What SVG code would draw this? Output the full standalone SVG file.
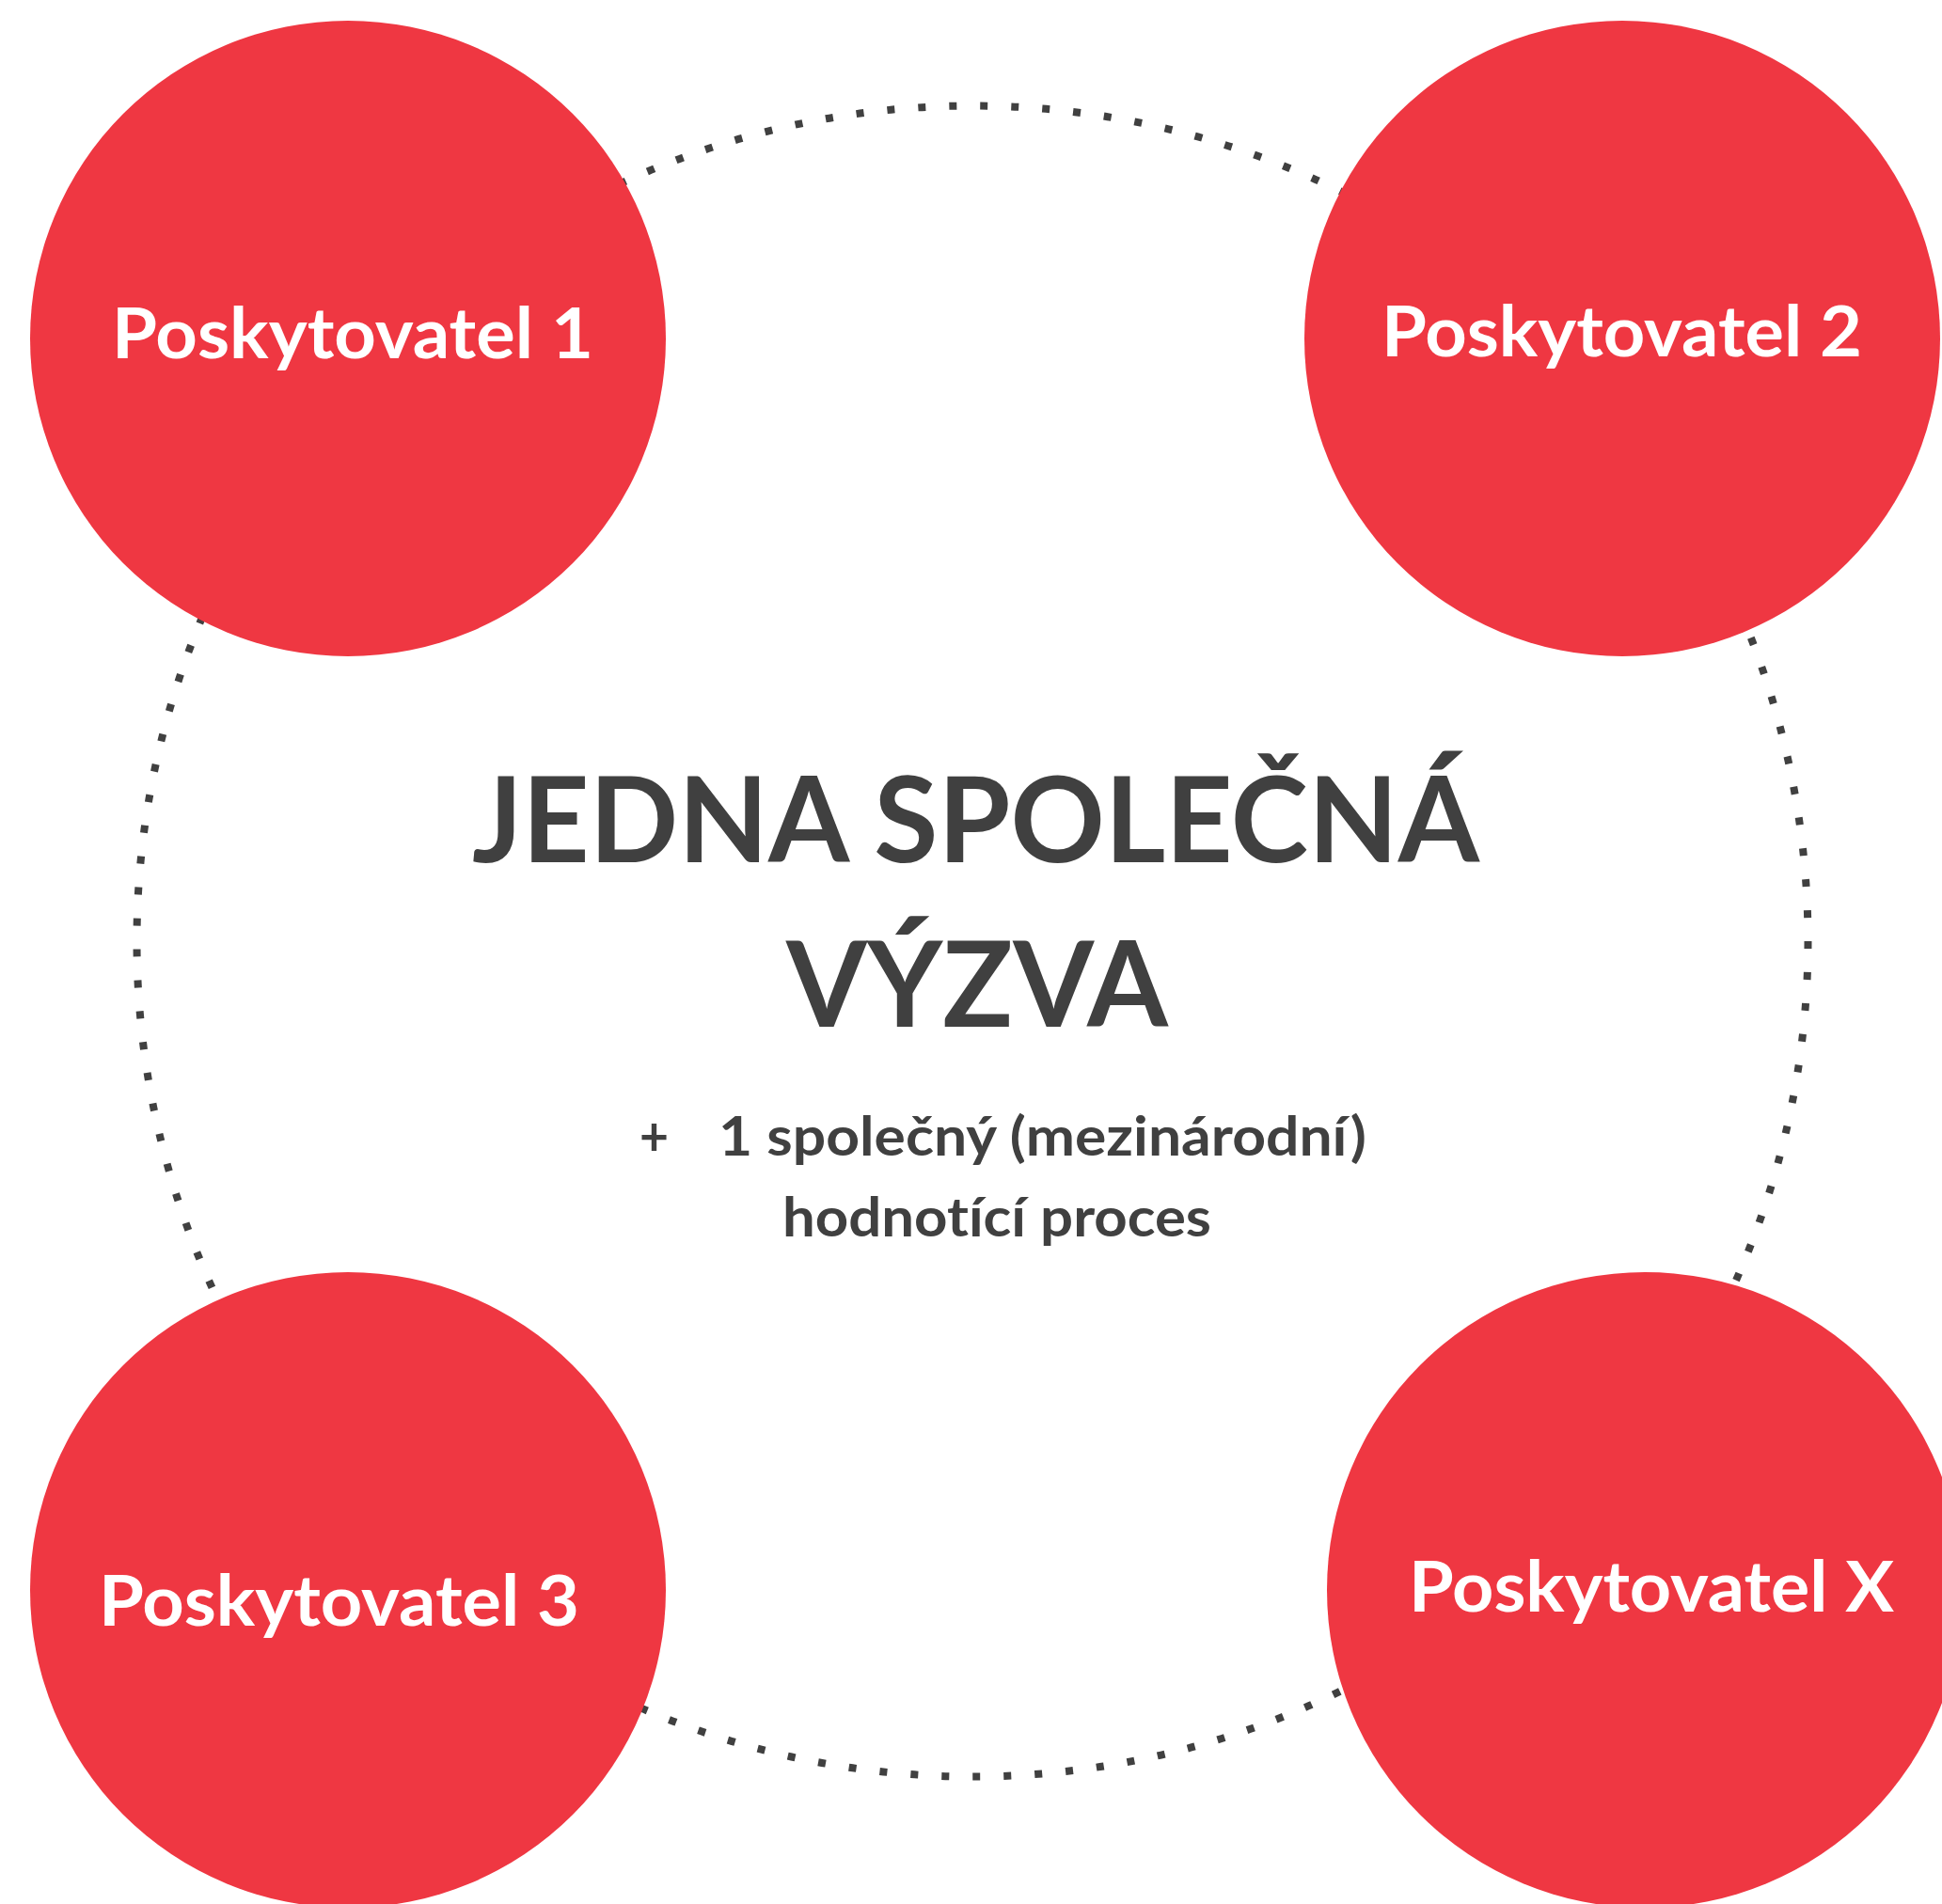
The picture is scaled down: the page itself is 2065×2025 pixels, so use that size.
<svg xmlns="http://www.w3.org/2000/svg" width="2065" height="2025" viewBox="0 0 2065 2025">
<style>
text{font-variant-ligatures:none;font-feature-settings:"liga" 0,"clig" 0}
.node{fill:#EF3742}
.lbl{font-family:Lato,"Open Sans","Liberation Sans",sans-serif;font-weight:700;font-size:75px;fill:#FFFFFF}
.title{font-family:Lato,"Open Sans","Liberation Sans",sans-serif;font-weight:700;font-size:127px;fill:#404040}
.sub{font-family:Lato,"Open Sans","Liberation Sans",sans-serif;font-weight:700;font-size:57px;fill:#404040}
.ring{fill:none;stroke:#404040;stroke-width:8;stroke-dasharray:8 25.03}
</style>
<rect width="2065" height="2025" fill="#FFFFFF"/>
<g id="connectors">
<circle class="ring" cx="1034" cy="1001" r="888.5"/>
</g>
<g id="node-p1">
<circle class="node" cx="370" cy="360" r="338"/>
<text class="lbl" x="119" y="381" textLength="512" lengthAdjust="spacingAndGlyphs">Poskytovatel 1</text>
</g>
<g id="node-p2">
<circle class="node" cx="1725" cy="360" r="338"/>
<text class="lbl" x="1469" y="379" textLength="511" lengthAdjust="spacingAndGlyphs">Poskytovatel 2</text>
</g>
<g id="node-p3">
<circle class="node" cx="370" cy="1691" r="338"/>
<text class="lbl" x="105" y="1729" textLength="511" lengthAdjust="spacingAndGlyphs">Poskytovatel 3</text>
</g>
<g id="node-px">
<circle class="node" cx="1749" cy="1691" r="338"/>
<text class="lbl" x="1498" y="1714" textLength="516" lengthAdjust="spacingAndGlyphs">Poskytovatel X</text>
</g>
<g id="center">
<text class="title" x="502" y="917" textLength="1071" lengthAdjust="spacingAndGlyphs">JEDNA SPOLEČNÁ</text>
<text class="title" x="836" y="1092" textLength="406" lengthAdjust="spacingAndGlyphs">VÝZVA</text>
<text class="sub" x="680" y="1229" textLength="31" lengthAdjust="spacingAndGlyphs">+</text>
<text class="sub" x="764" y="1229" textLength="689" lengthAdjust="spacingAndGlyphs">1 společný (mezinárodní)</text>
<text class="sub" x="832" y="1315" textLength="456" lengthAdjust="spacingAndGlyphs">hodnotící proces</text>
</g>
</svg>
